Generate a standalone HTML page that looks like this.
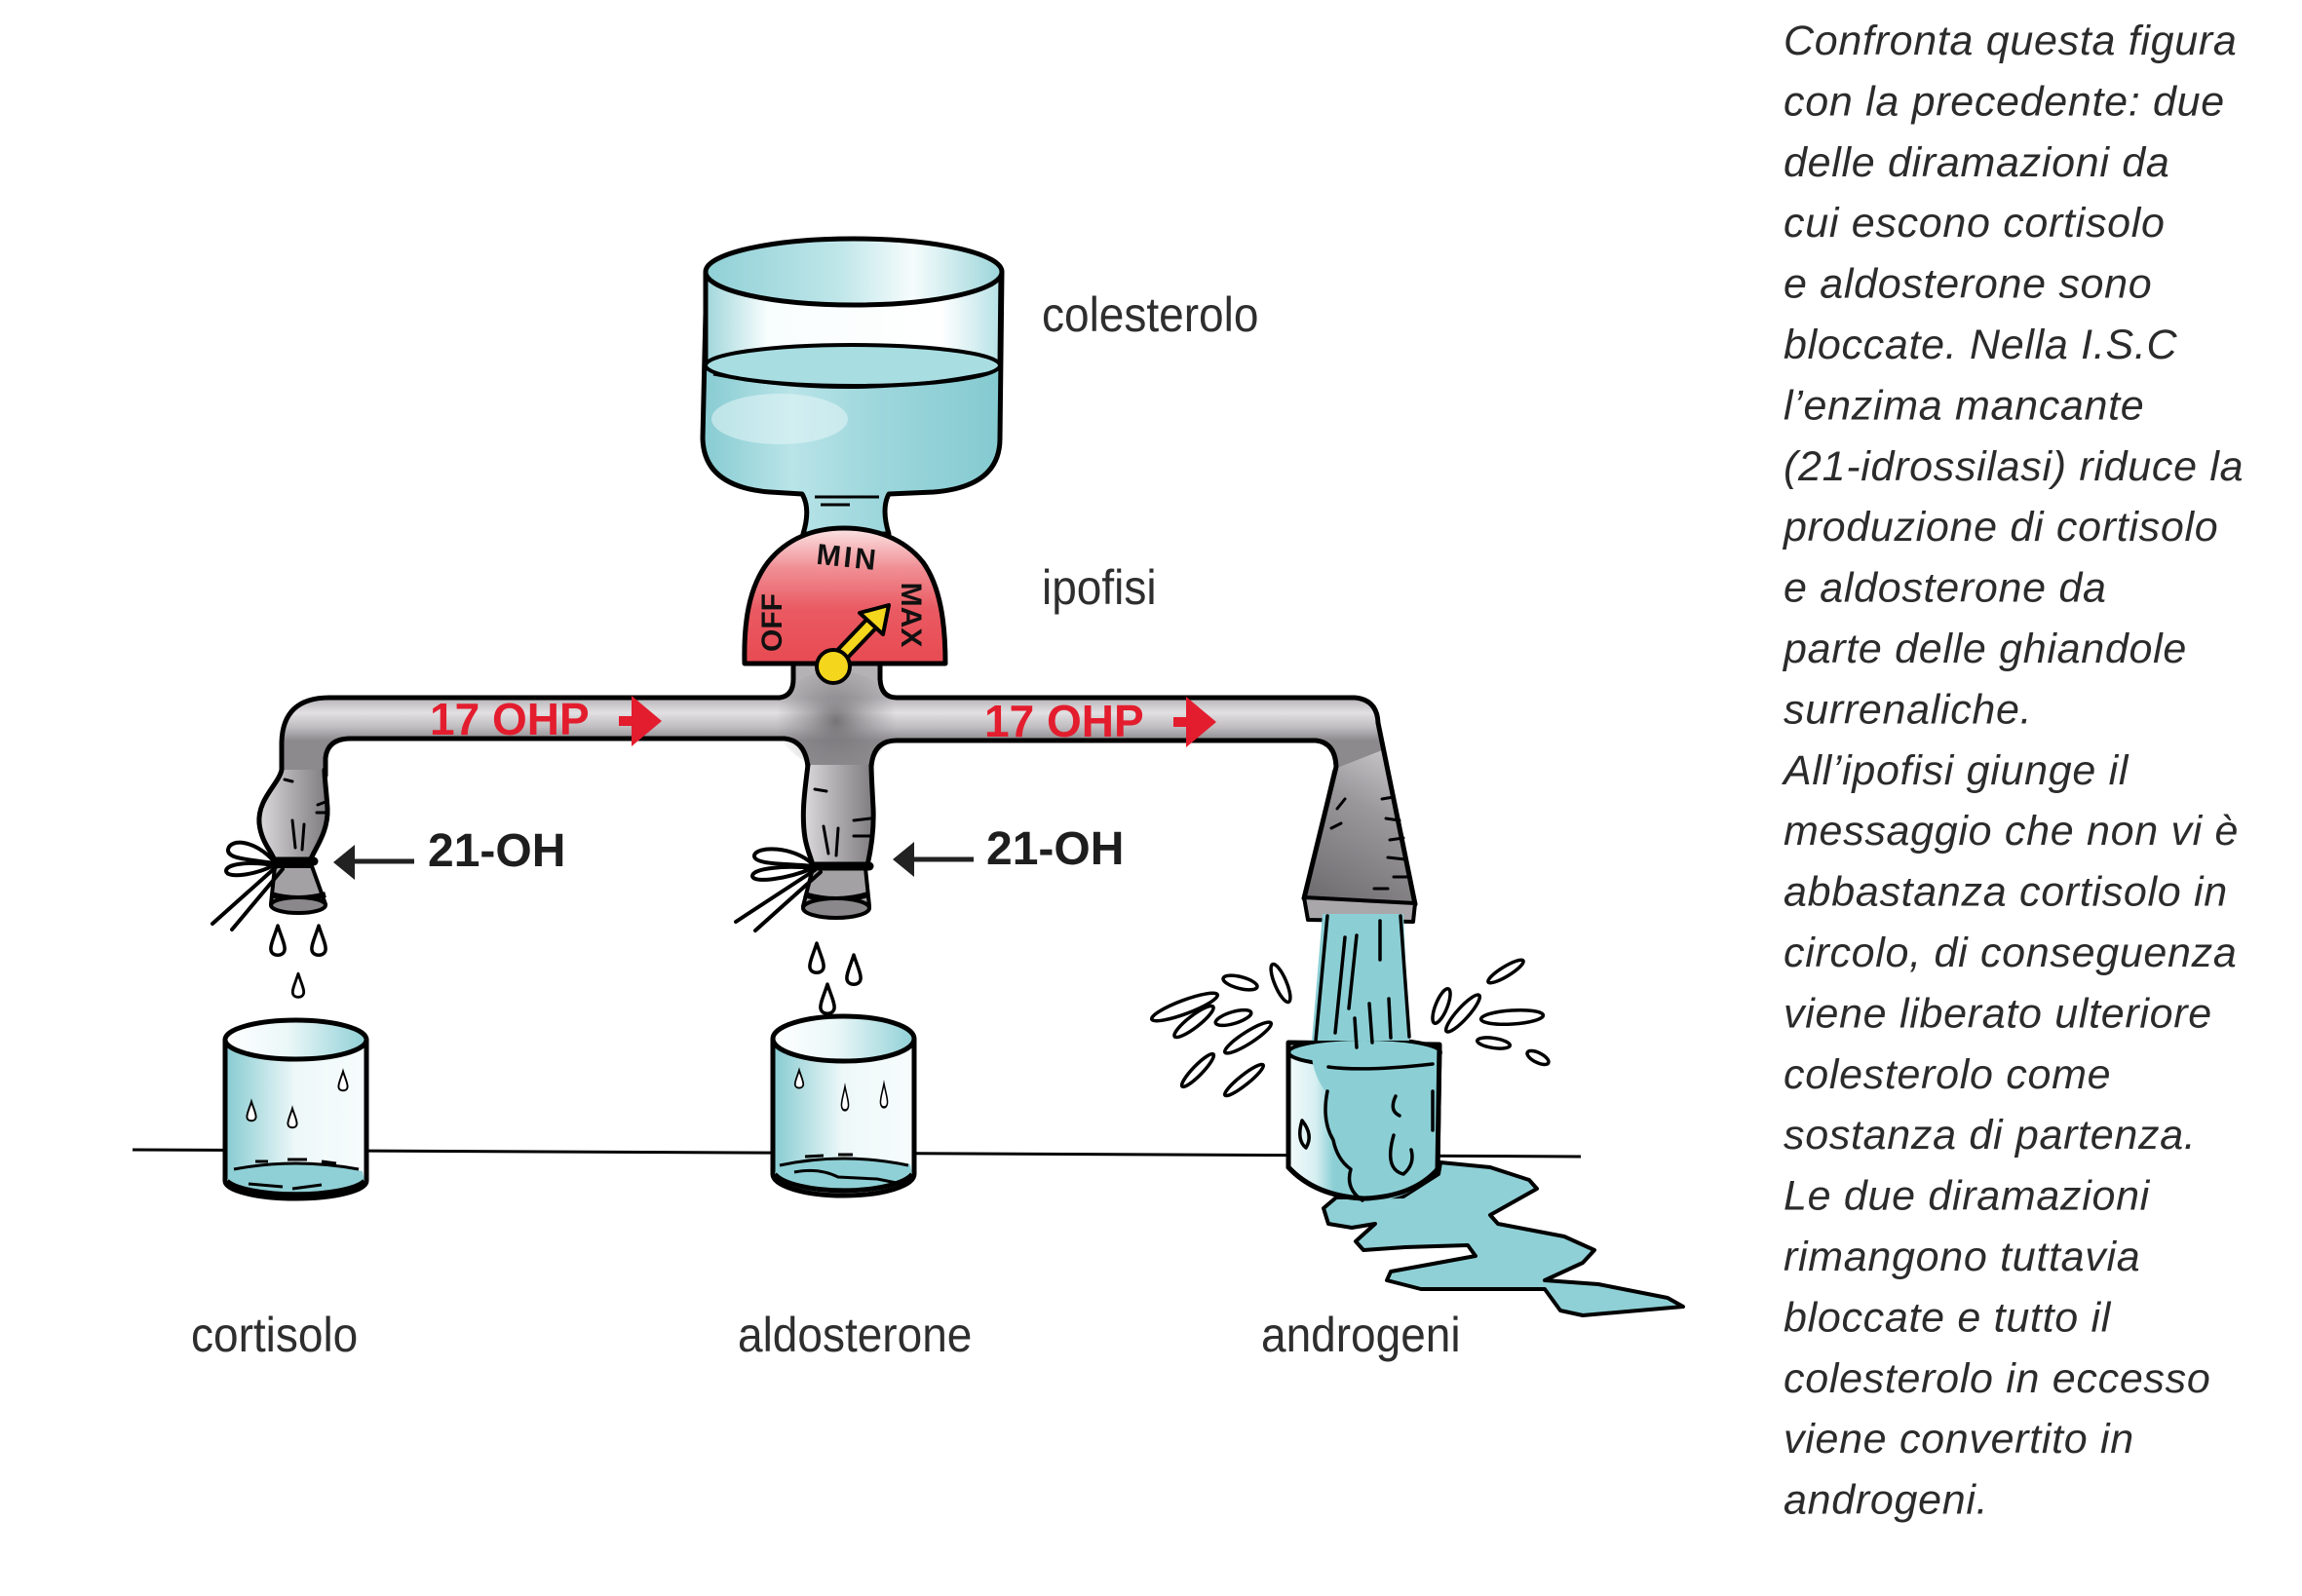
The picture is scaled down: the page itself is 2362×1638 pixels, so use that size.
<!DOCTYPE html>
<html><head><meta charset="utf-8">
<style>
html,body{margin:0;padding:0;background:#fff;}
svg{display:block;}
.t{font-family:"Liberation Sans",Arial,sans-serif;font-style:italic;font-size:43px;fill:#2b2b2b;letter-spacing:0.7px;}
.lab{font-family:"Liberation Sans",Arial,sans-serif;font-size:50px;fill:#2e2e2e;}
.ohp{font-family:"Liberation Sans",Arial,sans-serif;font-weight:bold;font-size:46px;fill:#e31d2e;}
.oh{font-family:"Liberation Sans",Arial,sans-serif;font-weight:bold;font-size:48px;fill:#1e1e1e;}
.dl{font-family:"Liberation Sans",Arial,sans-serif;font-weight:bold;font-size:30px;fill:#111;}
</style></head><body>
<svg width="2362" height="1638" viewBox="0 0 2362 1638" xmlns="http://www.w3.org/2000/svg">
<defs>
<linearGradient id="pipeG" gradientUnits="userSpaceOnUse" x1="0" y1="716" x2="0" y2="760">
 <stop offset="0" stop-color="#b4b2b5"/><stop offset="0.35" stop-color="#e2e0e2"/><stop offset="0.7" stop-color="#bdbbbe"/><stop offset="1" stop-color="#8c8a8d"/>
</linearGradient>
<linearGradient id="bagG" x1="0" y1="0" x2="1" y2="0">
 <stop offset="0" stop-color="#dcdadc"/><stop offset="0.45" stop-color="#b0aeb1"/><stop offset="1" stop-color="#7e7c7f"/>
</linearGradient>
<linearGradient id="coneG" gradientUnits="userSpaceOnUse" x1="1340" y1="920" x2="1430" y2="760">
 <stop offset="0" stop-color="#6e6c6f"/><stop offset="0.6" stop-color="#9a989b"/><stop offset="1" stop-color="#cfcdd0"/>
</linearGradient>
<radialGradient id="teeR" gradientUnits="userSpaceOnUse" cx="858" cy="740" r="62">
 <stop offset="0" stop-color="#6c6a6d" stop-opacity="0.9"/><stop offset="1" stop-color="#8a888b" stop-opacity="0"/>
</radialGradient>
<linearGradient id="dialG" gradientUnits="userSpaceOnUse" x1="0" y1="542" x2="0" y2="681">
 <stop offset="0" stop-color="#fbe3e4"/><stop offset="0.3" stop-color="#f08e94"/><stop offset="0.6" stop-color="#ea5a62"/><stop offset="1" stop-color="#e84a52"/>
</linearGradient>
<linearGradient id="bottleG" gradientUnits="userSpaceOnUse" x1="720" y1="0" x2="1028" y2="0">
 <stop offset="0" stop-color="#86cbd1"/><stop offset="0.3" stop-color="#b9e4e8"/><stop offset="0.55" stop-color="#9fd8dd"/><stop offset="1" stop-color="#84cad0"/>
</linearGradient>
<linearGradient id="airG" gradientUnits="userSpaceOnUse" x1="720" y1="0" x2="1028" y2="0">
 <stop offset="0" stop-color="#9ad4d9"/><stop offset="0.22" stop-color="#f8fdfd"/><stop offset="0.8" stop-color="#ffffff"/><stop offset="1" stop-color="#b4e1e5"/>
</linearGradient>
<linearGradient id="topEll" x1="0" y1="0" x2="1" y2="0">
 <stop offset="0" stop-color="#8fd0d6"/><stop offset="0.45" stop-color="#bfe6e9"/><stop offset="0.7" stop-color="#f6fcfc"/><stop offset="1" stop-color="#9ad5da"/>
</linearGradient>
<linearGradient id="cupG" x1="0" y1="0" x2="1" y2="0">
 <stop offset="0" stop-color="#86cbd1"/><stop offset="0.5" stop-color="#eef8f9"/><stop offset="1" stop-color="#f7fcfc"/>
</linearGradient>
<linearGradient id="cupTop" x1="0" y1="0" x2="1" y2="0">
 <stop offset="0" stop-color="#ffffff"/><stop offset="0.45" stop-color="#eaf7f8"/><stop offset="1" stop-color="#8fd0d6"/>
</linearGradient>
<linearGradient id="cup3G" x1="0" y1="0" x2="1" y2="0">
 <stop offset="0" stop-color="#f3fafb"/><stop offset="0.18" stop-color="#d6eff1"/><stop offset="0.3" stop-color="#8bcfd5"/><stop offset="1" stop-color="#8bcfd5"/>
</linearGradient>
</defs>

<!-- right column text -->
<g class="t">
<text x="1830" y="56">Confronta questa figura</text>
<text x="1830" y="118.4">con la precedente: due</text>
<text x="1830" y="180.8">delle diramazioni da</text>
<text x="1830" y="243.2">cui escono cortisolo</text>
<text x="1830" y="305.6">e aldosterone sono</text>
<text x="1830" y="368">bloccate. Nella I.S.C</text>
<text x="1830" y="430.4">l’enzima mancante</text>
<text x="1830" y="492.8">(21-idrossilasi) riduce la</text>
<text x="1830" y="555.2">produzione di cortisolo</text>
<text x="1830" y="617.6">e aldosterone da</text>
<text x="1830" y="680">parte delle ghiandole</text>
<text x="1830" y="742.4">surrenaliche.</text>
<text x="1830" y="804.8">All’ipofisi giunge il</text>
<text x="1830" y="867.2">messaggio che non vi è</text>
<text x="1830" y="929.6">abbastanza cortisolo in</text>
<text x="1830" y="992">circolo, di conseguenza</text>
<text x="1830" y="1054.4">viene liberato ulteriore</text>
<text x="1830" y="1116.8">colesterolo come</text>
<text x="1830" y="1179.2">sostanza di partenza.</text>
<text x="1830" y="1241.6">Le due diramazioni</text>
<text x="1830" y="1304">rimangono tuttavia</text>
<text x="1830" y="1366.4">bloccate e tutto il</text>
<text x="1830" y="1428.8">colesterolo in eccesso</text>
<text x="1830" y="1491.2">viene convertito in</text>
<text x="1830" y="1553.6">androgeni.</text>
</g>

<!-- labels -->
<text class="lab" transform="translate(1069,340) scale(0.92,1)">colesterolo</text>
<text class="lab" transform="translate(1069,620) scale(0.92,1)">ipofisi</text>
<text class="lab" transform="translate(196,1387) scale(0.92,1)">cortisolo</text>
<text class="lab" transform="translate(757,1387) scale(0.92,1)">aldosterone</text>
<text class="lab" transform="translate(1294,1387) scale(0.92,1)">androgeni</text>

<!-- bottle -->
<path d="M725 279 L721 450 C722 488 752 502 790 505 L823 507 Q832 522 824 548 L912 548 Q904 522 912 507 L958 505 C996 502 1026 488 1026 450 L1028 279 Z" fill="url(#bottleG)" stroke="#000" stroke-width="5" stroke-linejoin="round"/>
<rect x="724" y="279" width="302" height="96" fill="url(#airG)"/>
<path d="M724 279 L724 375 M1027 279 L1026 375" stroke="#000" stroke-width="5"/>
<ellipse cx="800" cy="430" rx="70" ry="26" fill="#e6f6f7" opacity="0.55"/>
<ellipse cx="875" cy="375" rx="151" ry="21" fill="#a8dde1" stroke="#000" stroke-width="4"/>
<path d="M732 384 Q875 412 1018 382" fill="none" stroke="#000" stroke-width="3"/>
<ellipse cx="876" cy="279" rx="152" ry="34" fill="url(#topEll)" stroke="#000" stroke-width="5"/>
<path d="M836 510 L902 510 M842 518 L872 518" stroke="#000" stroke-width="3"/>

<!-- ground line -->
<path d="M136 1180 L1622 1187" stroke="#000" stroke-width="3"/>

<!-- puddle -->
<path d="M1371 1229 L1358 1240 L1363 1256 L1387 1260 L1411 1256 L1391 1274 L1399 1283 L1442 1280 L1506 1278 L1514 1289 L1427 1305 L1423 1314 L1458 1323 L1585 1323 L1601 1345 L1624 1350 L1727 1341 L1711 1332 L1640 1318 L1585 1314 L1624 1296 L1636 1283 L1605 1269 L1537 1256 L1529 1247 L1545 1238 L1577 1220 L1569 1211 L1529 1198 L1478 1193 L1476 1205 L1440 1228 Z" fill="#8fd0d6" stroke="#000" stroke-width="4" stroke-linejoin="round"/>

<!-- pipe -->
<path d="M289 796 L289 762 Q290 716 338 716 L800 716 Q814 714 814 697 L814 679 L903 679 L903 697 Q904 716 920 716 L1390 716 Q1413 718 1414 742 L1452 928 L1338 922 L1371 787 Q1370 762 1350 760 L920 760 Q896 760 894 787 L829 787 Q826 760 805 758 L360 758 Q336 758 334 778 L334 796 Z" fill="url(#pipeG)"/>
<path d="M1367 790 L1418 770 L1452 928 L1338 922 Z" fill="url(#coneG)"/>
<ellipse cx="858" cy="738" rx="62" ry="50" fill="url(#teeR)"/>
<g fill="none" stroke="#000" stroke-width="5" stroke-linejoin="round" stroke-linecap="round">
<path d="M289 796 L289 762 Q290 716 338 716 L800 716 Q814 714 814 697 L814 682"/>
<path d="M903 682 L903 697 Q904 716 920 716 L1390 716 Q1413 718 1414 742 L1452 928"/>
<path d="M334 796 L334 778 Q336 758 360 758 L805 758 Q826 760 829 787"/>
<path d="M894 787 Q896 760 920 760 L1350 760 Q1370 762 1371 787 L1338 922"/>
</g>
<path d="M1338 921 L1452 927 L1450 946 L1342 944 Z" fill="#a9a7aa" stroke="#000" stroke-width="4" stroke-linejoin="round"/>
<g stroke="#000" stroke-width="3" stroke-linecap="round">
<path d="M1418 820 L1430 818 M1422 840 L1436 842 M1426 862 L1440 860 M1424 880 L1442 882 M1430 900 L1446 900 M1410 912 L1424 912 M1372 830 L1380 820 M1366 850 L1376 845"/>
</g>

<!-- dial -->
<path d="M764 681 C763 640 768 603 788 577 C808 552 836 542 866 542 C898 542 928 553 947 577 C965 602 970 640 970 681 Z" fill="url(#dialG)" stroke="#000" stroke-width="5" stroke-linejoin="round"/>
<text class="dl" x="870" y="582" text-anchor="middle" letter-spacing="3" transform="rotate(6 870 570)">MIN</text>
<text class="dl" text-anchor="middle" transform="translate(802,639) rotate(-90)">OFF</text>
<text class="dl" text-anchor="middle" transform="translate(925,631) rotate(90)">MAX</text>
<path d="M856 680 L898 636" stroke="#000" stroke-width="17" stroke-linecap="round"/>
<path d="M856 680 L898 636" stroke="#f4d61c" stroke-width="9" stroke-linecap="round"/>
<polygon points="912,621 906,651 882,629" fill="#f4d61c" stroke="#000" stroke-width="4" stroke-linejoin="round"/>
<circle cx="855" cy="684" r="17" fill="#f4d61c" stroke="#000" stroke-width="4"/>

<!-- 17 OHP labels -->
<text class="ohp" x="441" y="754">17 OHP</text>
<path d="M635 735 L648 735 L648 714 L679 740 L648 766 L648 745 L635 745 Z" fill="#e31d2e"/>
<text class="ohp" x="1010" y="756">17 OHP</text>
<path d="M1204 736 L1217 736 L1217 715 L1248 741 L1217 767 L1217 746 L1204 746 Z" fill="#e31d2e"/>

<!-- left bag & nozzle -->
<path d="M289 790 C286 805 264 820 266 845 C268 865 280 875 282 884 L318 884 C322 872 337 855 336 830 C335 812 333 800 333 790 Z" fill="url(#bagG)"/>
<path d="M289 790 C286 805 264 820 266 845 C268 865 280 875 282 884 M318 884 C322 872 337 855 336 830 C335 812 333 800 333 790" fill="none" stroke="#000" stroke-width="5" stroke-linecap="round"/>
<path d="M300 842 L303 870 M312 846 L310 872 M326 826 L334 823 M325 834 L334 834 M292 800 L300 802" stroke="#000" stroke-width="3" stroke-linecap="round"/>
<path d="M282 889 L278 928 L334 928 L320 889 Z" fill="#a3a1a4" stroke="#000" stroke-width="4" stroke-linejoin="round"/>
<path d="M278 918 Q306 926 334 918" fill="none" stroke="#000" stroke-width="6"/>
<ellipse cx="306" cy="929" rx="28" ry="8" fill="#8a888b" stroke="#000" stroke-width="4"/>
<path d="M277 884 L322 884" stroke="#000" stroke-width="9" stroke-linecap="round"/>
<g fill="#fff" stroke="#000" stroke-width="4" stroke-linejoin="round">
<path d="M281 884 C262 862 236 860 234 872 C233 882 258 882 281 886 Z"/>
<path d="M281 888 C258 884 232 886 232 894 C233 902 262 898 281 888 Z"/>
</g>
<path d="M283 890 L218 948 M290 892 L238 954" stroke="#000" stroke-width="4" stroke-linecap="round"/>

<!-- middle bag & nozzle -->
<path d="M829 785 C826 810 822 835 826 860 C828 872 832 880 834 888 L890 888 C893 875 897 855 896 830 C895 810 894 795 894 785 Z" fill="url(#bagG)"/>
<path d="M829 785 C826 810 822 835 826 860 C828 872 832 880 834 888 M890 888 C893 875 897 855 896 830 C895 810 894 795 894 785" fill="none" stroke="#000" stroke-width="5" stroke-linecap="round"/>
<path d="M845 848 L850 876 M860 850 L858 878 M876 842 L893 840 M876 858 L893 858 M836 810 L848 812" stroke="#000" stroke-width="3" stroke-linecap="round"/>
<path d="M834 891 L824 930 L892 930 L888 891 Z" fill="#a3a1a4" stroke="#000" stroke-width="4" stroke-linejoin="round"/>
<path d="M825 918 Q858 928 891 918" fill="none" stroke="#000" stroke-width="6"/>
<ellipse cx="858" cy="932" rx="34" ry="10" fill="#8a888b" stroke="#000" stroke-width="4"/>
<path d="M830 889 L892 889" stroke="#000" stroke-width="9" stroke-linecap="round"/>
<g fill="#fff" stroke="#000" stroke-width="4" stroke-linejoin="round">
<path d="M834 887 C814 868 776 868 774 878 C773 888 808 886 834 889 Z"/>
<path d="M834 891 C806 888 772 891 772 899 C773 907 808 902 834 891 Z"/>
</g>
<path d="M836 893 L755 946 M842 895 L775 955" stroke="#000" stroke-width="4" stroke-linecap="round"/>

<!-- 21-OH -->
<text class="oh" x="439" y="889">21-OH</text>
<path d="M425 884 L358 884" stroke="#222" stroke-width="5"/>
<polygon points="342,885 364,867 364,903" fill="#222"/>
<text class="oh" x="1012" y="887">21-OH</text>
<path d="M999 882 L932 882" stroke="#222" stroke-width="5"/>
<polygon points="916,882 938,864 938,900" fill="#222"/>

<!-- falling drops -->
<g fill="#fff" stroke="#000" stroke-width="3.5" stroke-linejoin="round">
<path transform="translate(285,966)" d="M0 -16 C3 -6 8 4 7 9 C6 16 -6 16 -7 9 C-8 4 -3 -6 0 -16 Z"/>
<path transform="translate(327,966)" d="M0 -16 C3 -6 8 4 7 9 C6 16 -6 16 -7 9 C-8 4 -3 -6 0 -16 Z"/>
<path transform="translate(306,1012) scale(0.8)" d="M0 -16 C3 -6 8 4 7 9 C6 16 -6 16 -7 9 C-8 4 -3 -6 0 -16 Z"/>
<path transform="translate(838,984)" d="M0 -16 C3 -6 8 4 7 9 C6 16 -6 16 -7 9 C-8 4 -3 -6 0 -16 Z"/>
<path transform="translate(876,996)" d="M0 -16 C3 -6 8 4 7 9 C6 16 -6 16 -7 9 C-8 4 -3 -6 0 -16 Z"/>
<path transform="translate(849,1026)" d="M0 -16 C3 -6 8 4 7 9 C6 16 -6 16 -7 9 C-8 4 -3 -6 0 -16 Z"/>
</g>

<!-- cup cortisolo -->
<path d="M231 1067 L231 1212 A72.5 18 0 0 0 376 1212 L376 1067 Z" fill="url(#cupG)" stroke="#000" stroke-width="5" stroke-linejoin="round"/>
<path d="M235 1202 Q303 1188 372 1202 L374 1212 A72 18 0 0 1 233 1212 Z" fill="#8fd0d6"/>
<path d="M233 1212 A72.5 18 0 0 0 374 1212" fill="none" stroke="#000" stroke-width="5"/>
<path d="M240 1200 Q303 1188 368 1200 M262 1192 L275 1192 M295 1190 L315 1190 M330 1192 L345 1194 M255 1215 L290 1218 M300 1220 L330 1216" fill="none" stroke="#000" stroke-width="3"/>
<ellipse cx="303.5" cy="1067" rx="72.5" ry="20" fill="url(#cupTop)" stroke="#000" stroke-width="5"/>
<g fill="#fff" stroke="#000" stroke-width="3">
<path transform="translate(258,1141) scale(0.65)" d="M0 -16 C3 -6 8 4 7 9 C6 16 -6 16 -7 9 C-8 4 -3 -6 0 -16 Z"/>
<path transform="translate(300,1148) scale(0.65)" d="M0 -16 C3 -6 8 4 7 9 C6 16 -6 16 -7 9 C-8 4 -3 -6 0 -16 Z"/>
<path transform="translate(352,1110) scale(0.65)" d="M0 -16 C3 -6 8 4 7 9 C6 16 -6 16 -7 9 C-8 4 -3 -6 0 -16 Z"/>
</g>

<!-- cup aldosterone -->
<path d="M793 1066 L793 1205 A72.5 22 0 0 0 938 1205 L938 1066 Z" fill="url(#cupG)" stroke="#000" stroke-width="5" stroke-linejoin="round"/>
<path d="M797 1195 Q865 1180 934 1195 L936 1205 A72 22 0 0 1 795 1205 Z" fill="#8fd0d6"/>
<path d="M795 1205 A72.5 22 0 0 0 936 1205" fill="none" stroke="#000" stroke-width="5"/>
<path d="M800 1196 Q865 1182 932 1196 M815 1203 Q840 1198 860 1208 L900 1210 L925 1215 M826 1187 L845 1186 M860 1185 L875 1185" fill="none" stroke="#000" stroke-width="3"/>
<ellipse cx="865.5" cy="1066" rx="72.5" ry="23" fill="url(#cupTop)" stroke="#000" stroke-width="5"/>
<g fill="#fff" stroke="#000" stroke-width="3">
<path transform="translate(820,1108) scale(0.6)" d="M0 -16 C3 -6 8 4 7 9 C6 16 -6 16 -7 9 C-8 4 -3 -6 0 -16 Z"/>
<path transform="translate(867,1128) scale(0.5,0.8)" d="M0 -16 C3 -6 8 4 7 9 C6 16 -6 16 -7 9 C-8 4 -3 -6 0 -16 Z"/>
<path transform="translate(907,1125) scale(0.5,0.8)" d="M0 -16 C3 -6 8 4 7 9 C6 16 -6 16 -7 9 C-8 4 -3 -6 0 -16 Z"/>
</g>

<!-- cup androgeni -->
<path d="M1322 1070 L1322 1198 Q1350 1228 1400 1230 Q1450 1228 1475 1200 L1477 1072 Z" fill="url(#cup3G)" stroke="#000" stroke-width="5" stroke-linejoin="round"/>
<ellipse cx="1400" cy="1080" rx="78" ry="14" fill="#8bcfd5" stroke="#000" stroke-width="4"/>
<path d="M1345 1072 L1476 1078 L1474 1196 Q1460 1224 1420 1232 L1400 1232 Q1380 1220 1385 1200 Q1370 1190 1368 1170 Q1355 1150 1360 1120 Q1345 1100 1345 1072 Z" fill="#8bcfd5"/>
<path d="M1322 1070 L1322 1198 Q1350 1228 1400 1230 Q1450 1228 1475 1200 L1477 1072" fill="none" stroke="#000" stroke-width="5"/>
<path d="M1357 938 L1440 938 L1446 1068 L1346 1068 Z" fill="#8bcfd5"/>
<g fill="none" stroke="#000" stroke-width="3.5" stroke-linecap="round" stroke-linejoin="round">
<path d="M1362 940 L1350 1068"/>
<path d="M1437 940 L1446 1064"/>
<path d="M1380 962 L1370 1060 M1392 960 L1384 1035 M1416 945 L1416 985"/>
<path d="M1390 1045 L1392 1075 M1405 1030 L1408 1070 M1425 1025 L1427 1065"/>
<path d="M1363 1095 Q1400 1100 1470 1092"/>
<path d="M1362 1120 Q1356 1150 1368 1170 Q1372 1190 1386 1200 Q1380 1220 1398 1232"/>
<path d="M1432 1125 Q1425 1140 1436 1145"/>
<path d="M1430 1165 Q1420 1200 1440 1205 Q1452 1195 1448 1180"/>
<path d="M1336 1150 Q1330 1170 1340 1178 Q1348 1165 1336 1150"/>
<path d="M1470 1120 L1470 1160"/>
</g>

<!-- splashes -->
<g fill="#fff" stroke="#000" stroke-width="3.5">
<ellipse cx="1215.5" cy="1033.5" rx="36" ry="7" transform="rotate(-20.5 1215.5 1033.5)"/>
<ellipse cx="1225" cy="1048.5" rx="25" ry="6" transform="rotate(-37.8 1225 1048.5)"/>
<ellipse cx="1272.5" cy="1008.5" rx="18" ry="6" transform="rotate(14.4 1272.5 1008.5)"/>
<ellipse cx="1314" cy="1009" rx="21" ry="6" transform="rotate(67 1314 1009)"/>
<ellipse cx="1265.5" cy="1044.5" rx="19" ry="6" transform="rotate(-16.6 1265.5 1044.5)"/>
<ellipse cx="1280.5" cy="1065" rx="28" ry="6" transform="rotate(-32.6 1280.5 1065)"/>
<ellipse cx="1229" cy="1098.5" rx="23" ry="5" transform="rotate(-45.9 1229 1098.5)"/>
<ellipse cx="1276.5" cy="1108.5" rx="25" ry="5" transform="rotate(-38.5 1276.5 1108.5)"/>
<ellipse cx="1545" cy="997" rx="21" ry="5" transform="rotate(-31.4 1545 997)"/>
<ellipse cx="1479" cy="1032.5" rx="19" ry="6" transform="rotate(-68 1479 1032.5)"/>
<ellipse cx="1501" cy="1040" rx="25" ry="6" transform="rotate(-48 1501 1040)"/>
<ellipse cx="1551.5" cy="1044" rx="32" ry="7" transform="rotate(-3.6 1551.5 1044)"/>
<ellipse cx="1532.5" cy="1070.5" rx="17" ry="5" transform="rotate(8.6 1532.5 1070.5)"/>
<ellipse cx="1578" cy="1085.5" rx="12" ry="5" transform="rotate(26.6 1578 1085.5)"/>
</g>
</svg>
</body></html>
